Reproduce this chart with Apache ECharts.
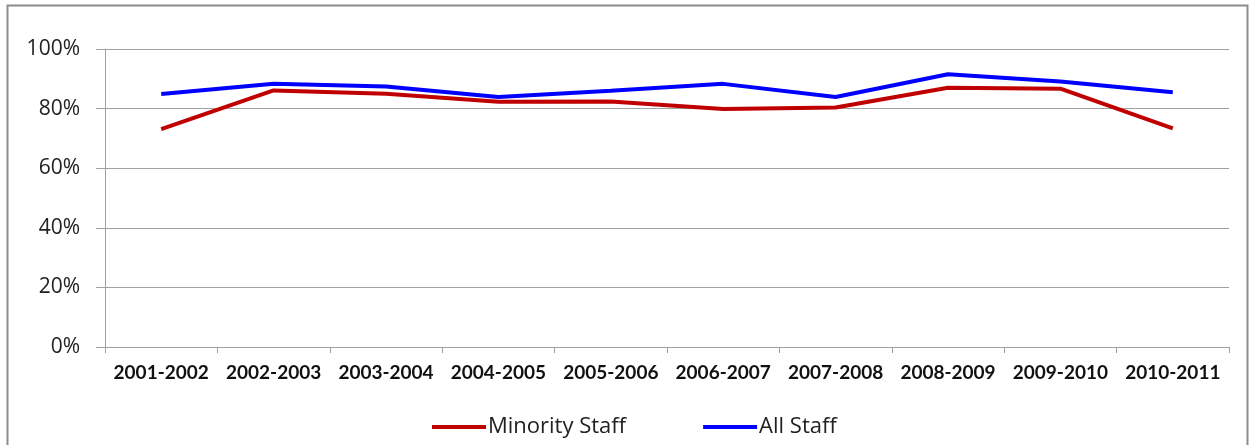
<!DOCTYPE html>
<html>
<head>
<meta charset="utf-8">
<script src="https://cdn.jsdelivr.net/npm/echarts@6/dist/echarts.min.js"></script>
<style>
    html, body { margin: 0; padding: 0; background: #fff; }
    #chart { width: 1252px; height: 445px; }
</style>
</head>
<body>
<div id="chart"></div>
<script>
    // school years on the x axis
    const years = ['2001-2002', '2002-2003', '2003-2004', '2004-2005', '2005-2006',
        '2006-2007', '2007-2008', '2008-2009', '2009-2010', '2010-2011'];
    // percent values
    const minorityStaff = [73.1, 86.1, 85.0, 82.3, 82.4, 79.9, 80.4, 87.0, 86.7, 73.4];
    const allStaff = [84.9, 88.3, 87.4, 83.9, 86.0, 88.3, 83.9, 91.5, 89.1, 85.5];

    const font = 'Lato, "Open Sans", sans-serif';
    const font2 = '"Open Sans", Lato, sans-serif';
    let myChart = echarts.init(document.getElementById('chart'));

    myChart.setOption({
        animation: false,
        textStyle: { fontFamily: font },
        graphic: [{
            type: 'rect',
            shape: { x: 7.5, y: 5.5, width: 1240, height: 460 },
            style: { fill: 'none', stroke: '#8c8c8c', lineWidth: 2 },
            silent: true
        }],
        legend: {
            bottom: 2,
            left: 427,
            itemWidth: 54,
            itemHeight: 4,
            itemGap: 77,
            icon: 'rect',
            textStyle: { fontSize: 22, color: '#222', fontFamily: font2, padding: [0, 0, 0, -3] },
            data: ['Minority Staff', 'All Staff']
        },
        grid: {
            left: 105,
            right: 23,
            top: 49,
            bottom: 98
        },
        xAxis: {
            type: 'category',
            data: years,
            boundaryGap: true,
            axisLine: { lineStyle: { color: '#a0a0a0', width: 1 } },
            axisTick: { show: true, length: 6, alignWithLabel: false, lineStyle: { color: '#a0a0a0' } },
            axisLabel: { color: '#111', fontSize: 19, fontWeight: 'bold', margin: 16, interval: 0 }
        },
        yAxis: {
            type: 'value',
            min: 0,
            max: 100,
            interval: 20,
            axisLine: { show: true, lineStyle: { color: '#a0a0a0' } },
            axisTick: { show: true, length: 9, lineStyle: { color: '#a0a0a0' } },
            splitLine: { lineStyle: { color: '#a0a0a0', width: 1 } },
            axisLabel: { color: '#222', fontSize: 21, fontFamily: font2, margin: 25, formatter: '{value}%' }
        },
        series: [
            {
                name: 'Minority Staff',
                type: 'line',
                data: minorityStaff,
                symbol: 'none',
                itemStyle: { color: '#c00000' },
                lineStyle: { color: '#c00000', width: 4 }
            },
            {
                name: 'All Staff',
                type: 'line',
                data: allStaff,
                symbol: 'none',
                itemStyle: { color: '#0000ff' },
                lineStyle: { color: '#0000ff', width: 4 }
            }
        ]
    });

    window.addEventListener('resize', function () {
        myChart.resize()
    })
</script>
</body>
</html>
